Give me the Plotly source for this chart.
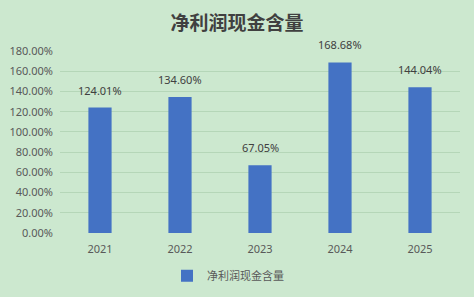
import plotly.graph_objects as go

years = ["2021", "2022", "2023", "2024", "2025"]
values = [124.01, 134.60, 67.05, 168.68, 144.04]
series_name = "净利润现金含量"
tick_vals = [0, 20, 40, 60, 80, 100, 120, 140, 160, 180]
tick_text = [f"{v:.2f}%" for v in tick_vals]

bg = "#CCE8CF"
fig = go.Figure()
fig.add_trace(go.Bar(
    x=years, y=values, name=series_name,
    marker=dict(color="#4472C4", line=dict(width=0)),
    cliponaxis=False, showlegend=True,
))
for i, v in enumerate(values):
    fig.add_annotation(x=i, y=v, text=f"{v:.2f}%", showarrow=False,
                       yanchor="bottom", yshift=8,
                       font=dict(size=11, color="#404040", family="Noto Sans"))
fig.update_layout(
    width=474, height=297,
    margin=dict(l=60, r=14, t=51, b=64, autoexpand=False),
    paper_bgcolor=bg, plot_bgcolor=bg,
    bargap=0.71,
    title=dict(text="<b>净利润现金含量</b>", x=0.5, xanchor="center", y=0.92, yanchor="middle",
               font=dict(size=19, color="#404040", family="Noto Sans CJK SC")),
    legend=dict(orientation="h", x=0.42, xanchor="center", y=-0.235, yanchor="middle",
                itemwidth=30,
                font=dict(size=11, color="#595959", family="Noto Sans CJK SC"),
                bgcolor="rgba(0,0,0,0)"),
    font=dict(family="Noto Sans", color="#595959"),
)
fig.update_yaxes(range=[0, 180], tickvals=tick_vals, ticktext=tick_text,
                 showgrid=True, gridcolor="#B5D6B8", gridwidth=1, zeroline=False,
                 showline=False, tickfont=dict(size=11, color="#595959"), ticks="", ticklen=0,
                 ticklabelstandoff=6)
fig.update_xaxes(type="category", range=[-0.5, 4.5], showline=False, showgrid=False,
                 tickfont=dict(size=11, color="#595959"), ticks="",
                 ticklabelstandoff=8)
fig.write_html("out.html")
